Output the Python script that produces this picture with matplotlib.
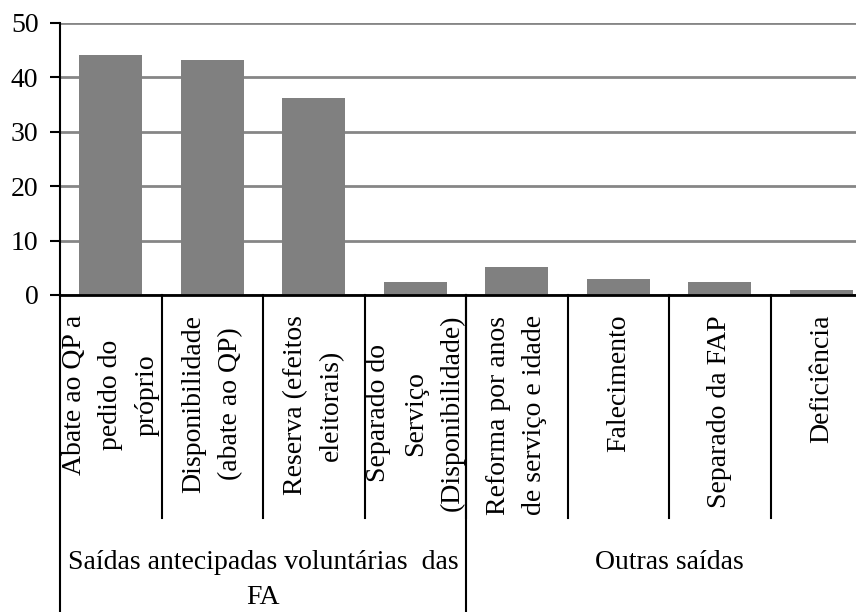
import matplotlib.pyplot as plt
from matplotlib.transforms import blended_transform_factory

# Data
categories = [
    'Abate ao QP a\npedido do\npróprio',
    'Disponibilidade\n(abate ao QP)',
    'Reserva (efeitos\neleitorais)',
    'Separado do\nServiço\n(Disponibilidade)',
    'Reforma por anos\nde serviço e idade',
    'Falecimento',
    'Separado da FAP',
    'Deficiência',
]
values = [44.1, 43.2, 36.2, 2.3, 5.2, 2.9, 2.3, 0.9]
groups = ['Saídas antecipadas voluntárias  das\nFA', 'Outras saídas']
group_sizes = [4, 4]

plt.rcParams['font.family'] = ['Liberation Serif', 'DejaVu Serif']
fs = 20

fig = plt.figure(figsize=(8.56, 6.12), dpi=100)
W, H = 856, 612
# axes: left edge at 60px, zero line at 295px, top (50) at 23px; extends past right edge
ax = fig.add_axes([60 / W, (H - 295) / H, 812 / W, (295 - 23) / H])

x = [i + 0.5 for i in range(len(values))]
ax.bar(x, values, width=0.62, color='#808080', zorder=3)

ax.set_xlim(0, len(values))
ax.set_ylim(0, 50)
ax.set_yticks(range(0, 51, 10))
ax.yaxis.grid(True, color='#868686', linewidth=2, zorder=0)
ax.set_axisbelow(True)
ax.set_xticks([])
ax.tick_params(axis='y', length=7.5, width=1.5, labelsize=fs, pad=8, colors='black')

for s in ['top', 'right']:
    ax.spines[s].set_visible(False)
ax.spines['left'].set_linewidth(1.5)
ax.spines['bottom'].set_linewidth(2)
ax.spines['bottom'].set_zorder(4)

trans = blended_transform_factory(ax.transData, ax.transAxes)
ax_h = 295 - 23

# category separators
for b in range(1, len(values)):
    ax.plot([b, b], [0, -(518 - 295) / ax_h], color='black', lw=1.5,
            transform=trans, clip_on=False)

# group separators down to the bottom
pos = 0
for g in group_sizes:
    ax.plot([pos, pos], [0, -(H - 295 + 5) / ax_h], color='black', lw=1.5,
            transform=trans, clip_on=False)
    pos += g

# category labels
for xi, lab in zip(x, categories):
    ax.text(xi, -(315 - 295) / ax_h, lab, rotation=90, ha='center', va='top',
            multialignment='center', fontsize=fs, linespacing=1.6,
            transform=trans)

# group labels
pos = 0
for g, lab in zip(group_sizes, groups):
    ax.text(pos + g / 2, -(550 - 295) / ax_h, lab, ha='center', va='top',
            multialignment='center', fontsize=fs, linespacing=1.55,
            transform=trans)
    pos += g

fig.savefig('out.png', dpi=100)
